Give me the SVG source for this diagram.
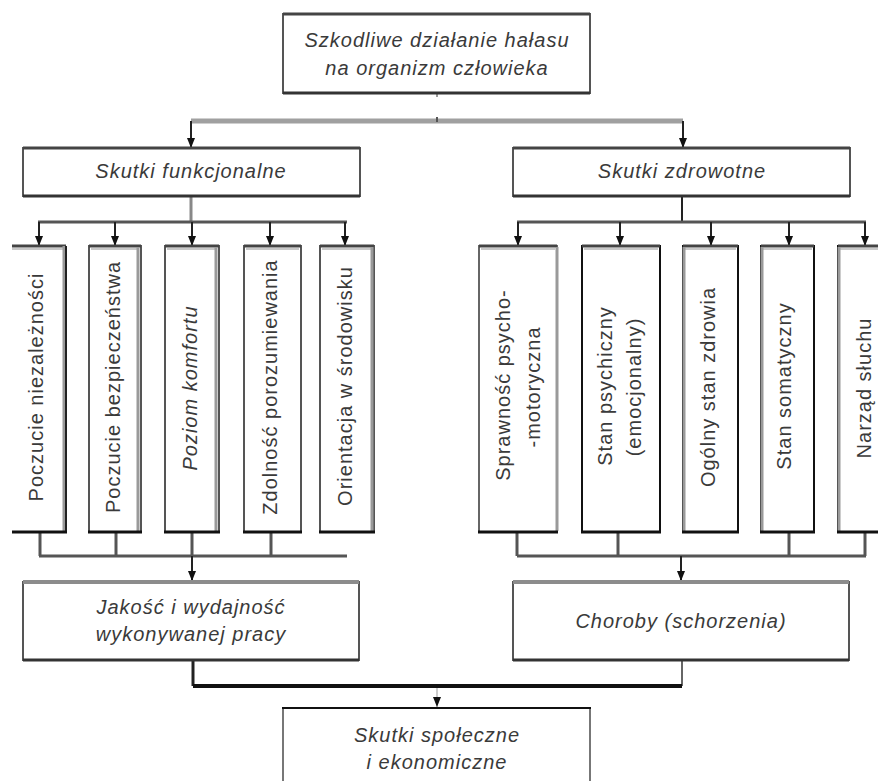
<svg xmlns="http://www.w3.org/2000/svg" width="878" height="781" viewBox="0 0 878 781">
<style>
  .bg { fill: #ffffff; }
  .box { fill: #ffffff; stroke: #555555; stroke-width: 2; }
  .edge-top { stroke: #444444; stroke-width: 3; fill: none; }
  .edge-top-light { stroke: #8c8c8c; stroke-width: 4; fill: none; }
  .edge-bot { stroke: #333333; stroke-width: 3; fill: none; }
  .edge-bot-black { stroke: #111111; stroke-width: 3; fill: none; }
  .inner-light { stroke: #c8c8c8; stroke-width: 2; fill: none; }
  .side-gray { stroke: #9a9a9a; stroke-width: 3; fill: none; }
  .side-dark { stroke: #222222; stroke-width: 2; fill: none; }
  .t { font-family: "Liberation Sans", Arial, sans-serif; font-size: 20px; fill: #3a3a3a; letter-spacing: 1px; text-anchor: middle; }
  .it { font-style: italic; }
  .conn { stroke: #555555; stroke-width: 3; fill: none; }
  .conn-gray { stroke: #a0a0a0; stroke-width: 5; fill: none; }
  .conn-black { stroke: #111111; stroke-width: 4; fill: none; }
  .arr { stroke: #222222; stroke-width: 2; fill: none; marker-end: url(#ah); }
</style>
<defs>
  <marker id="ah" markerUnits="userSpaceOnUse" markerWidth="10" markerHeight="8" refX="10" refY="4" orient="auto">
    <path d="M0,0 L10,4 L0,8 z" fill="#111111"/>
  </marker>
</defs>
<rect class="bg" x="0" y="0" width="878" height="781"/>

<g id="connectors">
  <!-- top -->
  <line x1="437" y1="93" x2="437" y2="97" stroke="#999" stroke-width="2"/>
  <line class="conn-gray" x1="191" y1="121" x2="683" y2="121"/>
  <line x1="437" y1="117" x2="437" y2="122" stroke="#555" stroke-width="2"/>
  <line class="arr" x1="191" y1="121" x2="191" y2="148"/>
  <line class="arr" x1="683" y1="121" x2="683" y2="148"/>
  <!-- functional branch -->
  <line x1="191" y1="196" x2="191" y2="222" stroke="#888" stroke-width="3"/>
  <line class="conn" x1="38" y1="222" x2="347" y2="222"/>
  <line class="arr" x1="39" y1="222" x2="39" y2="246"/>
  <line class="arr" x1="115" y1="222" x2="115" y2="246"/>
  <line class="arr" x1="192" y1="222" x2="192" y2="246"/>
  <line class="arr" x1="270" y1="222" x2="270" y2="246"/>
  <line class="arr" x1="345" y1="222" x2="345" y2="246"/>
  <!-- health branch -->
  <line x1="682" y1="196" x2="682" y2="222" stroke="#222" stroke-width="2"/>
  <line class="conn" x1="517" y1="222" x2="866" y2="222"/>
  <line class="arr" x1="518" y1="222" x2="518" y2="246"/>
  <line class="arr" x1="620" y1="222" x2="620" y2="246"/>
  <line class="arr" x1="711" y1="222" x2="711" y2="246"/>
  <line class="arr" x1="789" y1="222" x2="789" y2="246"/>
  <line class="arr" x1="865" y1="222" x2="865" y2="246"/>
  <!-- left collector -->
  <line class="conn" x1="40" y1="532" x2="40" y2="556"/>
  <line class="conn" x1="116" y1="532" x2="116" y2="556"/>
  <line class="conn" x1="192" y1="532" x2="192" y2="556"/>
  <line class="conn" x1="271" y1="532" x2="271" y2="556"/>
  <line class="conn" x1="39" y1="556" x2="347" y2="556"/>
  <line class="arr" x1="192" y1="556" x2="192" y2="581"/>
  <!-- right collector -->
  <line class="conn" x1="517" y1="532" x2="517" y2="556"/>
  <line class="conn" x1="618" y1="532" x2="618" y2="556"/>
  <line class="conn" x1="789" y1="532" x2="789" y2="556"/>
  <line class="conn" x1="865" y1="532" x2="865" y2="556"/>
  <line class="conn" x1="517" y1="556" x2="866" y2="556"/>
  <line class="arr" x1="681" y1="556" x2="681" y2="581"/>
  <!-- bottom -->
  <line x1="193" y1="660" x2="193" y2="686" stroke="#222" stroke-width="3"/>
  <line x1="682" y1="660" x2="682" y2="686" stroke="#666" stroke-width="2"/>
  <line class="conn-black" x1="193" y1="686" x2="682" y2="686"/>
  <line x1="437" y1="688" x2="437" y2="708" stroke="#999" stroke-width="1"/>
  <path d="M433,697 L441,697 L437,707 z" fill="#111"/>
</g>

<g id="node-top">
  <rect class="box" x="283" y="14" width="307" height="79"/>
  <line class="edge-top" x1="283" y1="14" x2="590" y2="14"/>
  <line class="edge-bot" x1="283" y1="93" x2="590" y2="93"/>
  <text class="t it" x="437" y="47">Szkodliwe działanie hałasu</text>
  <text class="t it" x="437" y="75">na organizm człowieka</text>
</g>

<g id="node-funkcjonalne">
  <rect class="box" x="23" y="148" width="337" height="48"/>
  <line class="edge-top" x1="23" y1="148" x2="360" y2="148"/>
  <line class="edge-bot" x1="23" y1="196" x2="360" y2="196"/>
  <text class="t it" x="191" y="178">Skutki funkcjonalne</text>
</g>

<g id="node-zdrowotne">
  <rect class="box" x="513" y="148" width="337" height="48"/>
  <line class="edge-top" x1="513" y1="148" x2="850" y2="148"/>
  <line class="edge-bot" x1="513" y1="196" x2="850" y2="196"/>
  <text class="t it" x="682" y="178">Skutki zdrowotne</text>
</g>

<!-- left vertical nodes -->
<g id="node-niezaleznosc">
  <rect fill="#fff" x="12" y="246" width="54" height="286"/>
  <line class="edge-top" x1="12" y1="246" x2="66" y2="246"/>
  <line class="inner-light" x1="12" y1="249" x2="64" y2="249"/>
  <line class="side-gray" x1="64" y1="246" x2="64" y2="532"/>
  <line class="side-dark" x1="66" y1="246" x2="66" y2="532"/>
  <line class="edge-bot-black" x1="12" y1="532" x2="67" y2="532"/>
  <text class="t" transform="translate(43,387) rotate(-90)">Poczucie niezależności</text>
</g>
<g id="node-bezpieczenstwo">
  <rect class="box" x="89" y="246" width="52" height="286"/>
  <line class="edge-top" x1="89" y1="246" x2="141" y2="246"/>
  <line class="inner-light" x1="91" y1="249" x2="137" y2="249"/>
  <line class="side-gray" x1="138" y1="247" x2="138" y2="531"/>
  <line class="edge-bot-black" x1="88" y1="532" x2="142" y2="532"/>
  <text class="t" transform="translate(120,387) rotate(-90)">Poczucie bezpieczeństwa</text>
</g>
<g id="node-komfort">
  <rect class="box" x="165" y="246" width="54" height="286"/>
  <line class="edge-top" x1="165" y1="246" x2="219" y2="246"/>
  <line class="inner-light" x1="167" y1="249" x2="215" y2="249"/>
  <line class="side-gray" x1="216" y1="247" x2="216" y2="531"/>
  <line class="edge-bot-black" x1="164" y1="532" x2="220" y2="532"/>
  <text class="t it" transform="translate(197,388) rotate(-90)">Poziom komfortu</text>
</g>
<g id="node-porozumiewanie">
  <rect class="box" x="244" y="246" width="57" height="286"/>
  <line class="edge-top" x1="244" y1="246" x2="301" y2="246"/>
  <line class="inner-light" x1="246" y1="249" x2="299" y2="249"/>
  <line class="edge-bot-black" x1="243" y1="532" x2="302" y2="532"/>
  <text class="t" transform="translate(277,387) rotate(-90)">Zdolność porozumiewania</text>
</g>
<g id="node-orientacja">
  <rect class="box" x="320" y="246" width="54" height="286"/>
  <line class="edge-top" x1="320" y1="246" x2="374" y2="246"/>
  <line class="inner-light" x1="322" y1="249" x2="372" y2="249"/>
  <line class="side-gray" x1="372" y1="247" x2="372" y2="531"/>
  <line class="edge-bot-black" x1="319" y1="532" x2="375" y2="532"/>
  <text class="t" transform="translate(352,386) rotate(-90)">Orientacja w środowisku</text>
</g>

<!-- right vertical nodes -->
<g id="node-sprawnosc">
  <rect fill="#fff" stroke="#666" stroke-width="2" x="479" y="246" width="78" height="286"/>
  <line class="edge-top" x1="479" y1="246" x2="557" y2="246"/>
  <line class="inner-light" x1="481" y1="249" x2="555" y2="249"/>
  <line class="side-gray" x1="557" y1="247" x2="557" y2="531"/>
  <line class="edge-bot-black" x1="478" y1="532" x2="558" y2="532"/>
  <text class="t" transform="translate(510,385) rotate(-90)">Sprawność psycho-</text>
  <text class="t" transform="translate(540,387) rotate(-90)">-motoryczna</text>
</g>
<g id="node-psychiczny">
  <rect fill="#fff" stroke="#111" stroke-width="2" x="582" y="246" width="78" height="286"/>
  <line class="edge-top" x1="582" y1="246" x2="660" y2="246"/>
  <line class="inner-light" x1="584" y1="249" x2="658" y2="249"/>
  <line class="edge-bot-black" x1="581" y1="532" x2="661" y2="532"/>
  <text class="t" transform="translate(612,386) rotate(-90)">Stan psychiczny</text>
  <text class="t" transform="translate(641,387) rotate(-90)">(emocjonalny)</text>
</g>
<g id="node-ogolny">
  <rect fill="#fff" stroke="#111" stroke-width="2" x="683" y="246" width="55" height="286"/>
  <line class="edge-top" x1="683" y1="246" x2="738" y2="246"/>
  <line class="inner-light" x1="685" y1="249" x2="736" y2="249"/>
  <line class="side-gray" x1="684" y1="247" x2="684" y2="531"/>
  <line class="edge-bot-black" x1="682" y1="532" x2="739" y2="532"/>
  <text class="t" transform="translate(715,387) rotate(-90)">Ogólny stan zdrowia</text>
</g>
<g id="node-somatyczny">
  <rect fill="#fff" stroke="#111" stroke-width="2" x="761" y="246" width="53" height="286"/>
  <line class="edge-top" x1="761" y1="246" x2="814" y2="246"/>
  <line class="inner-light" x1="763" y1="249" x2="812" y2="249"/>
  <line class="side-gray" x1="762" y1="247" x2="762" y2="531"/>
  <line class="edge-bot-black" x1="760" y1="532" x2="815" y2="532"/>
  <text class="t" transform="translate(791,386) rotate(-90)">Stan somatyczny</text>
</g>
<g id="node-sluch">
  <rect fill="#fff" stroke="#111" stroke-width="2" x="838" y="246" width="56" height="286"/>
  <line class="edge-top" x1="838" y1="246" x2="878" y2="246"/>
  <line class="inner-light" x1="840" y1="249" x2="878" y2="249"/>
  <line class="side-gray" x1="839" y1="247" x2="839" y2="531"/>
  <line class="edge-bot-black" x1="837" y1="532" x2="878" y2="532"/>
  <text class="t" transform="translate(871,388) rotate(-90)">Narząd słuchu</text>
</g>

<g id="node-jakosc">
  <rect class="box" x="23" y="582" width="336" height="78"/>
  <line class="edge-top-light" x1="23" y1="582" x2="359" y2="582"/>
  <line class="edge-bot" x1="23" y1="660" x2="359" y2="660"/>
  <text class="t it" x="191" y="614">Jakość i wydajność</text>
  <text class="t it" x="191" y="641">wykonywanej pracy</text>
</g>

<g id="node-choroby">
  <rect class="box" x="513" y="582" width="336" height="78"/>
  <line class="edge-top-light" x1="513" y1="582" x2="849" y2="582"/>
  <line class="edge-bot" x1="513" y1="660" x2="849" y2="660"/>
  <text class="t it" x="681" y="628">Choroby (schorzenia)</text>
</g>

<g id="node-spoleczne">
  <line x1="283" y1="708" x2="283" y2="781" stroke="#777" stroke-width="2"/>
  <line x1="590" y1="708" x2="590" y2="781" stroke="#777" stroke-width="2"/>
  <line x1="282" y1="708" x2="591" y2="708" stroke="#111" stroke-width="2"/>
  <text class="t it" x="437" y="742">Skutki społeczne</text>
  <text class="t it" x="437" y="769">i ekonomiczne</text>
</g>
</svg>
